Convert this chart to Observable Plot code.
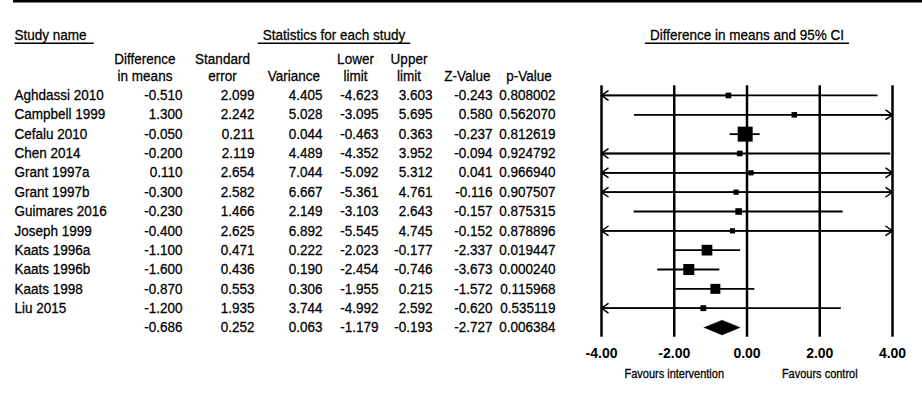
<!DOCTYPE html>
<html><head><meta charset="utf-8">
<script src="https://cdn.jsdelivr.net/npm/d3@7"></script>
<script src="https://cdn.jsdelivr.net/npm/@observablehq/plot@0.6"></script>
<style>
html,body{margin:0;padding:0;background:#fff;}
#chart svg{display:block;}
</style></head><body><div id="chart"></div>
<script>
// ---- data ----
const studyNames = ["Aghdassi 2010","Campbell 1999","Cefalu 2010","Chen 2014","Grant 1997a","Grant 1997b","Guimares 2016","Joseph 1999","Kaats 1996a","Kaats 1996b","Kaats 1998","Liu 2015"];
const diffMeans   = [-0.510, 1.300, -0.050, -0.200, 0.110, -0.300, -0.230, -0.400, -1.100, -1.600, -0.870, -1.200];
const stdErrors   = [2.099, 2.242, 0.211, 2.119, 2.654, 2.582, 1.466, 2.625, 0.471, 0.436, 0.553, 1.935];
const variances   = [4.405, 5.028, 0.044, 4.489, 7.044, 6.667, 2.149, 6.892, 0.222, 0.190, 0.306, 3.744];
const lowerLimits = [-4.623, -3.095, -0.463, -4.352, -5.092, -5.361, -3.103, -5.545, -2.023, -2.454, -1.955, -4.992];
const upperLimits = [3.603, 5.695, 0.363, 3.952, 5.312, 4.761, 2.643, 4.745, -0.177, -0.746, 0.215, 2.592];
const zValues     = [-0.243, 0.580, -0.237, -0.094, 0.041, -0.116, -0.157, -0.152, -2.337, -3.673, -1.572, -0.620];
const pValues     = [0.808002, 0.562070, 0.812619, 0.924792, 0.966940, 0.907507, 0.875315, 0.878896, 0.019447, 0.000240, 0.115968, 0.535119];
const pooledStats = [-0.686, 0.252, 0.063, -1.179, -0.193, -2.727, 0.006384]; // diff, se, var, lower, upper, z, p
const axisTicks   = [-4, -2, 0, 2, 4];
const tickLabels  = ["-4.00", "-2.00", "0.00", "2.00", "4.00"];
const favourLabels = ["Favours intervention", "Favours control"];
const favourAt     = [-2, 2];
const colHeads1 = ["Difference", "Standard", "", "Lower", "Upper", "", ""];
const colHeads2 = ["in means", "error", "Variance", "limit", "limit", "Z-Value", "p-Value"];

// ---- layout ----
const W = 922, H = 410;
const ML = 601, MR = 30, MT = 85.3, MB = 73.3;
const colRight  = [182, 254, 322, 378, 432, 492, 555];
const colCenter = [144.5, 222, 293.5, 355, 408.5, 467, 528.5];
const xMin = axisTicks[0], xMax = axisTicks[axisTicks.length - 1];

const studies = studyNames.map((name, i) => ({
  i, name, diff: diffMeans[i], lower: lowerLimits[i], upper: upperLimits[i],
  weight: 1 / variances[i],
  cells: [diffMeans[i], stdErrors[i], variances[i], lowerLimits[i], upperLimits[i], zValues[i], pValues[i]]
}));
const pooledRow = {i: studies.length, name: "", cells: pooledStats};
const rows = [...studies, pooledRow];
const fmt = (c, v) => c === 6 ? v.toFixed(6) : v.toFixed(3);
const wMax = d3.max(studies, d => d.weight);

const pi = pooledRow.i, hh = 0.38;
const diamond = [
  {x: pooledStats[3], y: pi}, {x: pooledStats[0], y: pi - hh},
  {x: pooledStats[4], y: pi}, {x: pooledStats[0], y: pi + hh}, {x: pooledStats[3], y: pi}
];

const font = "'Liberation Sans', Arial, Helvetica, sans-serif";
const marks = [];
const T = {className: "tbl"};

// vertical reference lines
marks.push(Plot.ruleX(axisTicks, {stroke: "black", strokeWidth: 2.5}));
// whiskers
marks.push(Plot.ruleY(studies, {y: "i", x1: d => Math.max(d.lower, xMin), x2: d => Math.min(d.upper, xMax), stroke: "black", strokeWidth: 1.8}));
// arrowheads for clipped intervals
marks.push(Plot.arrow(studies.filter(d => d.lower < xMin), {x1: "diff", y1: "i", x2: () => xMin, y2: "i", stroke: "black", strokeWidth: 1.5, headLength: 8, headAngle: 70}));
marks.push(Plot.arrow(studies.filter(d => d.upper > xMax), {x1: "diff", y1: "i", x2: () => xMax, y2: "i", stroke: "black", strokeWidth: 1.5, headLength: 8, headAngle: 70}));
// squares
marks.push(Plot.dot(studies, {x: "diff", y: "i", r: "weight", symbol: "square", fill: "black", stroke: null}));
// pooled diamond
marks.push(Plot.line(diamond, {x: "x", y: "y", fill: "black", stroke: "black", strokeWidth: 0.5}));

// axis labels
marks.push(Plot.axisX({ticks: axisTicks, tickSize: 0, tickPadding: 11, tickFormat: (d) => tickLabels[axisTicks.indexOf(d)], fontWeight: "bold", fontSize: 14, label: null}));
marks.push(Plot.text(favourLabels, {x: (d, i) => favourAt[i], frameAnchor: "bottom", dy: 41, fontSize: 11, text: d => d, className: "fav"}));

// table: study names
marks.push(Plot.text(rows, {y: "i", text: "name", frameAnchor: "left", dx: 14 - ML, textAnchor: "start", ...T}));
// table: numeric columns
for (let c = 0; c < colRight.length; c++) {
  marks.push(Plot.text(rows, {y: "i", text: d => fmt(c, d.cells[c]), frameAnchor: "left", dx: colRight[c] - ML, textAnchor: "end", ...T}));
}
// column headers
for (let c = 0; c < colCenter.length; c++) {
  if (colHeads1[c]) marks.push(Plot.text([colHeads1[c]], {frameAnchor: "top-left", dx: colCenter[c] - ML, dy: 53 - MT, textAnchor: "middle", text: d => d, ...T}));
  marks.push(Plot.text([colHeads2[c]], {frameAnchor: "top-left", dx: colCenter[c] - ML, dy: 70 - MT, textAnchor: "middle", text: d => d, ...T}));
}
// group headers (underlined)
marks.push(Plot.text(["Study name"], {frameAnchor: "top-left", dx: 14 - ML, dy: 29 - MT, textAnchor: "start", text: d => d, className: "ul-left"}));
marks.push(Plot.text(["Statistics for each study"], {frameAnchor: "top-left", dx: 333.5 - ML, dy: 29 - MT, textAnchor: "middle", text: d => d, className: "ul-mid"}));
marks.push(Plot.text(["Difference in means and 95% CI"], {frameAnchor: "top-left", dx: 746.5 - ML, dy: 29 - MT, textAnchor: "middle", text: d => d, className: "ul-mid"}));

const chart = Plot.plot({
  width: W, height: H,
  marginLeft: ML, marginRight: MR, marginTop: MT, marginBottom: MB,
  style: {fontFamily: font, fontSize: "13.5px", color: "black", background: "white", overflow: "visible"},
  x: {domain: [xMin, xMax], axis: null},
  y: {domain: [-0.5, pooledRow.i + 0.5], reverse: true, axis: null},
  r: {type: "pow", exponent: 0.21, domain: [0, wMax], range: [0, 15 / Math.sqrt(Math.PI)]},
  marks
});
document.getElementById("chart").appendChild(chart);

// slightly taller, darker glyphs as in the reference
const svg = d3.select(chart);
svg.selectAll("g.tbl text, g.ul-left text, g.ul-mid text, g.fav text").each(function() {
  const t = this.getAttribute("transform");
  if (t) this.setAttribute("transform", t + " scale(1,1.08)");
  this.style.stroke = "black";
  this.style.strokeWidth = "0.25px";
});

// decorations: top bar and header underlines
svg.append("rect").attr("x", 13).attr("y", 0).attr("width", W - 13).attr("height", 2.5).attr("fill", "black");
svg.selectAll("g.ul-left text, g.ul-mid text").each(function() {
  const b = this.getBBox();
  const m = this.getCTM();
  const left = this.parentNode.classList.contains("ul-left");
  const x0 = m.a * b.x + m.e - (left ? 0 : 5);
  const x1 = m.a * (b.x + b.width) + m.e + (left ? 7 : 5);
  const yb = m.d * (b.y + b.height) + m.f + 0.3;
  svg.append("line").attr("x1", x0).attr("x2", x1).attr("y1", yb).attr("y2", yb)
    .attr("stroke", "black").attr("stroke-width", 1.3);
});
</script></body></html>
